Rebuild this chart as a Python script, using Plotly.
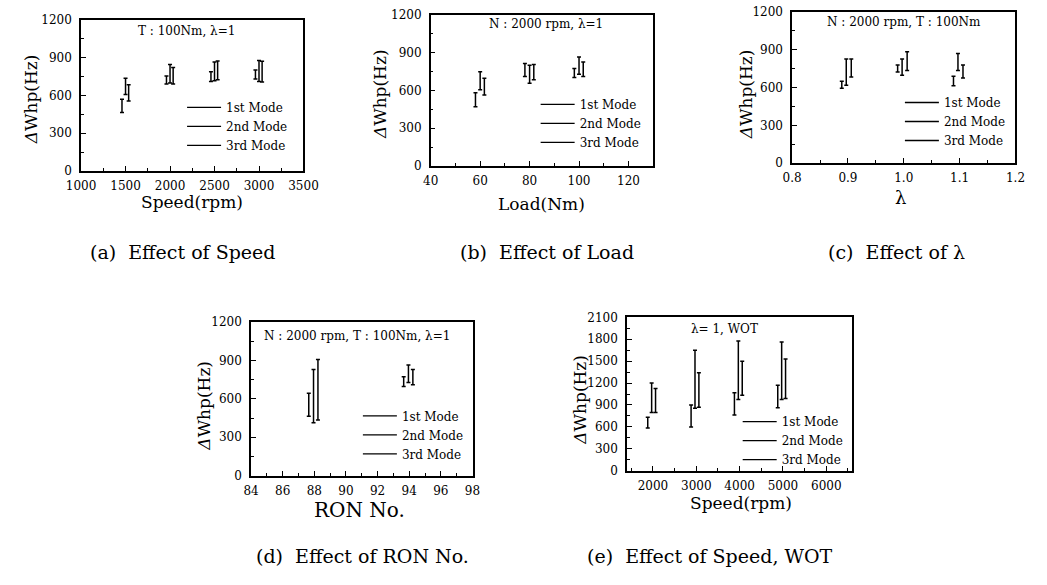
import plotly.graph_objects as go

FONT = "DejaVu Serif"
MODES = ["1st Mode", "2nd Mode", "3rd Mode"]

# (a) Effect of Speed  (T : 100Nm, lambda=1)
a_speed = [1500, 2000, 2500, 3000]
a_lo = [[464, 689, 710, 730], [606, 697, 715, 710], [555, 689, 723, 705]]
a_hi = [[568, 753, 787, 800], [735, 844, 864, 877], [684, 821, 873, 870]]

# (b) Effect of Load  (N : 2000 rpm, lambda=1)
b_load = [60, 80, 100]
b_lo = [[470, 710, 702], [606, 658, 728], [563, 684, 710]]
b_hi = [[581, 813, 774], [748, 800, 865], [697, 805, 826]]

# (c) Effect of lambda  (N : 2000 rpm, T : 100Nm)
c_lam = [0.9, 1.0, 1.1]
c_lo = [[594, 723, 614], [619, 697, 735], [684, 735, 676]]
c_hi = [[650, 779, 689], [826, 826, 870], [826, 883, 779]]

# (d) Effect of RON No.
d_ron = [88, 94]
d_lo = [[465, 697], [413, 728], [434, 710]]
d_hi = [[645, 774], [831, 865], [908, 831]]

# (e) Effect of Speed, WOT
e_speed = [2000, 3000, 4000, 5000]
e_lo = [[585, 598, 764, 863], [796, 854, 976, 976], [796, 868, 1034, 989]]
e_hi = [[733, 899, 1066, 1169], [1201, 1650, 1776, 1763], [1124, 1340, 1498, 1529]]

panels = [
    dict(x=a_speed, lo=a_lo, hi=a_hi, off=[-40, 0, 35]),
    dict(x=b_load, lo=b_lo, hi=b_hi, off=[-1.9, 0, 1.7]),
    dict(x=c_lam, lo=c_lo, hi=c_hi, off=[-0.011, -0.003, 0.006]),
    dict(x=d_ron, lo=d_lo, hi=d_hi, off=[-0.35, -0.05, 0.23]),
    dict(x=e_speed, lo=e_lo, hi=e_hi, off=[-120, -30, 60]),
]

W, H = 1047, 585
def px(v): return v / W
def py(v): return 1 - v / H

# plot frames in pixels: left, right, top, bottom
frames = [(68, 297, 13, 168), (428, 657, 8, 163), (800, 1030, 5, 160),
          (243, 471, 323, 480), (630, 862, 318, 475)]
xranges = [[1000, 3500], [40, 130], [0.8, 1.2], [84, 98], [1400, 6600]]
xdt = [500, 20, 0.1, 2, 1000]
xminor = [250, 10, 0.05, 1, 500]
xfmt = ["", "", ".1f", "", ""]
yranges = [[0, 1200]] * 4 + [[0, 2100]]

# axis titles (text, x px, y px, size)
xtitles = [("Speed(rpm)", 182, 200, 17), ("Load(Nm)", 542, 202, 17), ("λ", 912, 195, 18),
           ("RON No.", 355, 515, 20), ("Speed(rpm)", 747, 508, 17)]
ytitles = [(16, 95), (376, 89), (752, 89), (195, 408), (582, 402)]

fig = go.Figure()
for i, p in enumerate(panels):
    n = i + 1
    xa = "x" if n == 1 else f"x{n}"
    ya = "y" if n == 1 else f"y{n}"
    lg = "legend" if n == 1 else f"legend{n}"
    for m in range(3):
        mid = [(l + h) / 2 for l, h in zip(p["lo"][m], p["hi"][m])]
        half = [(h - l) / 2 for l, h in zip(p["lo"][m], p["hi"][m])]
        fig.add_trace(go.Scatter(
            x=[v + p["off"][m] for v in p["x"]], y=mid, mode="markers",
            marker=dict(size=1, color="rgba(0,0,0,0)"),
            error_y=dict(type="data", array=half, symmetric=True, width=2,
                         thickness=1.5, color="black"),
            xaxis=xa, yaxis=ya, showlegend=False, hoverinfo="skip"))
    for m in range(3):
        fig.add_trace(go.Scatter(
            x=[None], y=[None], mode="lines", name=MODES[m],
            line=dict(color="black", width=1.3),
            xaxis=xa, yaxis=ya, legend=lg, showlegend=True))

axis_common = dict(showline=True, mirror=True, linecolor="black", linewidth=1.5,
                   ticks="inside", ticklen=5, tickwidth=1.2, tickcolor="black",
                   showgrid=False, zeroline=False,
                   tickfont=dict(family=FONT, size=12, color="black"))

layout = dict(width=W, height=H, margin=dict(l=0, r=0, t=0, b=0),
              paper_bgcolor="white", plot_bgcolor="white",
              font=dict(family=FONT, color="black"))

legend_pos = [(172, 88), (536, 85), (911, 83), (353, 404), (744, 410)]

for i in range(5):
    n = i + 1
    l, r, t, b = frames[i]
    xk = "xaxis" if n == 1 else f"xaxis{n}"
    yk = "yaxis" if n == 1 else f"yaxis{n}"
    xa = "x" if n == 1 else f"x{n}"
    ya = "y" if n == 1 else f"y{n}"
    layout[xk] = dict(axis_common, domain=[px(l), px(r)], anchor=ya,
                      range=xranges[i], dtick=xdt[i], tick0=xranges[i][0] if i != 4 else 0,
                      tickformat=xfmt[i], ticklabelstandoff=3,
                      minor=dict(dtick=xminor[i], ticks="inside", ticklen=3,
                                 tickcolor="black", tickwidth=1))
    layout[yk] = dict(axis_common, domain=[py(b), py(t)], anchor=xa,
                      range=yranges[i], dtick=300, ticklabelstandoff=5,
                      minor=dict(dtick=150, ticks="inside", ticklen=3,
                                 tickcolor="black", tickwidth=1))
    lk = "legend" if n == 1 else f"legend{n}"
    lx, lyy = legend_pos[i]
    layout[lk] = dict(x=px(lx), y=py(lyy), xanchor="left", yanchor="top",
                      bgcolor="rgba(0,0,0,0)", borderwidth=0,
                      font=dict(family=FONT, size=12, color="black"),
                      itemwidth=34, tracegroupgap=0)

fig.update_layout(**layout)

def text(txt, x, y, size, angle=0):
    fig.add_annotation(text=txt, x=px(x), y=py(y), xref="paper", yref="paper",
                       xanchor="center", yanchor="middle", showarrow=False,
                       textangle=angle, font=dict(family=FONT, size=size, color="black"))

for txt, x, y, s in xtitles:
    text(txt, x, y, s)
for x, y in ytitles:
    text("<i>Δ</i>Whp(Hz)", x, y, 17, -90)

notes = [("T : 100Nm, λ=1", 177, 25), ("N : 2000 rpm, λ=1", 547, 17),
         ("N : 2000 rpm, T : 100Nm", 915, 15), ("N : 2000 rpm, T : 100Nm, λ=1", 352, 337),
         ("λ= 1, WOT", 730, 330)]
for txt, x, y in notes:
    text(txt, x, y, 12)

captions = [("(a)  Effect of Speed", 173, 251), ("(b)  Effect of Load", 548, 251),
            ("(c)  Effect of λ", 908, 251), ("(d)  Effect of RON No.", 358, 562),
            ("(e)  Effect of Speed, WOT", 716, 562)]
for txt, x, y in captions:
    text(txt, x, y, 19)

fig.write_html("out.html")
